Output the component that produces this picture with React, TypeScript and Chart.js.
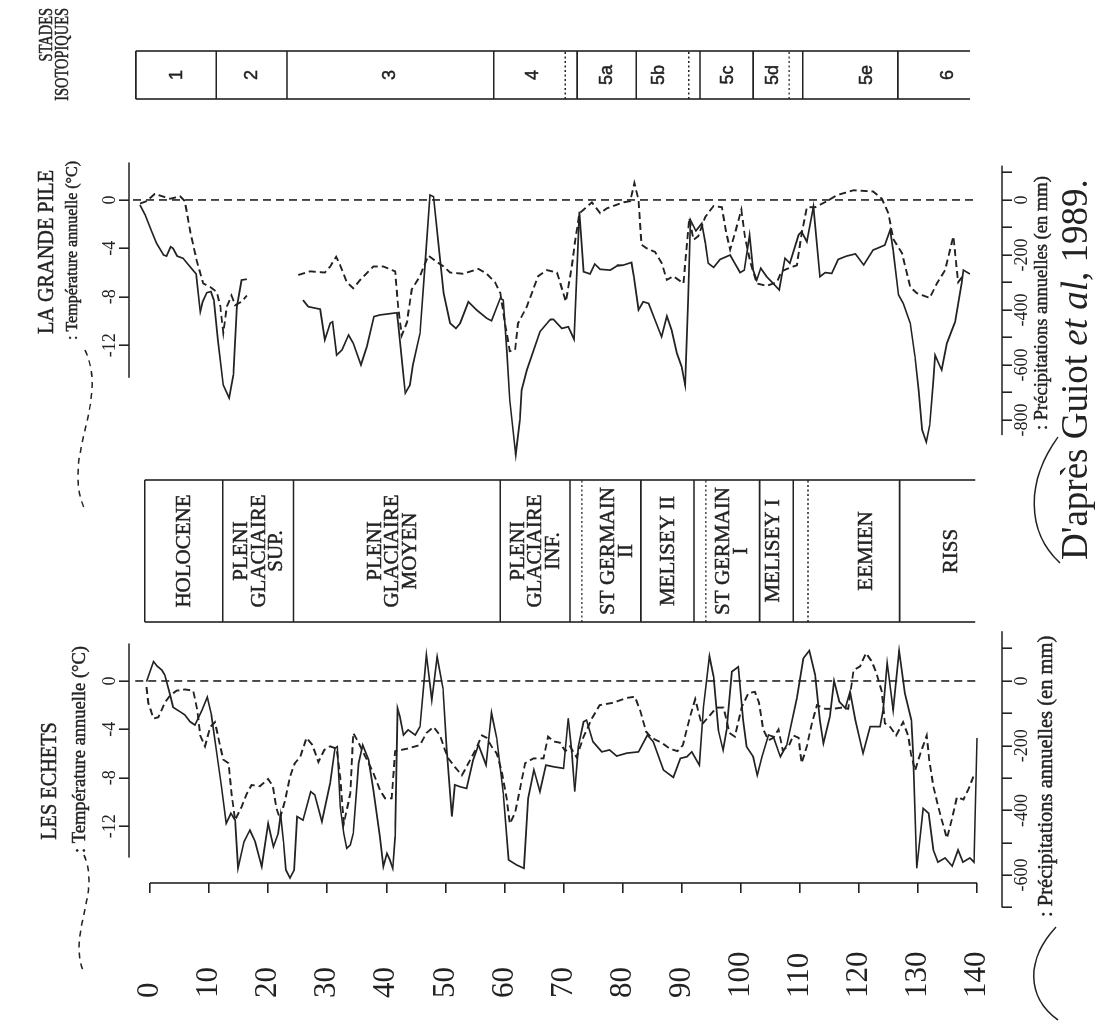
import React, { useEffect, useRef } from 'react';
import { Chart, registerables } from 'chart.js';

Chart.register(...registerables);

const INK = '#222222';
const SERIF = '"Liberation Serif", "DejaVu Serif", serif';
const SANS = '"Liberation Sans", "DejaVu Sans", sans-serif';
const TEXT_WEIGHT_STROKE = 0.45; // thickens canvas text slightly, like the scanned print

// Page (displayed) and the unrotated drawing frame (rotated -90deg on screen)
const PAGE_W = 1096;
const PAGE_H = 1023;
const FRAME_W = PAGE_H; // u axis -> displayed upward
const FRAME_H = PAGE_W; // v axis -> displayed rightward

// ---------------- DATA ----------------
// Age axis (ka)
const AGE_TICKS = [0, 10, 20, 30, 40, 50, 60, 70, 80, 90, 100, 110, 120, 130, 140];
const AGE_MIN = -3.56;
const AGE_MAX = 144.23;

const TEMP_TICKS = [-12, -8, -4, 0];
const LE_PRECIP_TICKS = [-700, -600, -500, -400, -300, -200, -100, 0, 100];
const GP_PRECIP_TICKS = [-800, -700, -600, -500, -400, -300, -200, -100, 0, 100];
const PRECIP_LABEL_STEP = 200;

// Les Echets : precipitation anomaly (mm) [age, value]
const LE_PRECIP = [
  [-0.6, -2], [0.6, 60], [1.2, 46], [2.0, 34], [2.5, 19], [3.4, -43], [3.9, -81], [5.1, -95], [5.9, -105], [6.8, -126],
  [7.6, -136], [8.8, -90], [9.7, -50], [10.4, -105], [11.3, -223], [12.1, -327], [12.9, -440], [13.7, -409], [14.4, -430], [14.9, -579],
  [15.9, -497], [16.9, -461], [17.8, -497], [18.9, -574], [20.0, -440], [20.9, -512], [21.7, -471], [22.1, -414], [22.6, -497], [23.0, -584],
  [23.7, -609], [24.4, -584], [24.9, -419], [25.9, -430], [27.2, -342], [27.9, -352], [29.1, -435], [30.5, -316], [31.3, -208], [31.7, -203],
  [32.2, -389], [32.8, -471], [33.3, -517], [33.9, -507], [34.4, -471], [35.3, -254], [36.0, -198], [37.0, -244], [37.8, -337], [38.9, -481],
  [39.5, -574], [40.1, -533], [40.6, -553], [41.1, -579], [41.5, -481], [41.9, -84], [42.3, -110], [42.9, -167], [43.7, -151], [44.9, -167],
  [45.7, -141], [46.8, 80], [47.7, -59], [48.6, 75], [49.6, -23], [50.2, -208], [51.1, -419], [51.6, -321], [52.5, -327], [53.6, -332],
  [54.7, -244], [55.6, -198], [56.9, -260], [57.8, -98], [58.7, -177], [59.8, -347], [60.7, -553], [62.1, -569], [63.3, -579], [64.0, -363],
  [65.0, -275], [66.0, -342], [67.0, -260], [68.3, -265], [70.0, -270], [70.8, -115], [71.4, -223], [71.9, -342], [72.5, -203], [73.4, -126],
  [73.9, -121], [75.0, -188], [76.5, -219], [77.8, -213], [79.0, -232], [80.7, -223], [82.7, -219], [84.2, -167], [85.2, -188], [86.9, -275],
  [88.6, -298], [89.8, -239], [90.9, -234], [91.7, -219], [93.0, -260], [93.7, -79], [94.7, 77], [95.4, 13], [96.2, -151], [97.0, -213],
  [97.6, -151], [98.5, 29], [99.6, 44], [100.4, -121], [101.0, -203], [102.1, -234], [102.8, -291], [103.6, -234], [104.7, -167], [105.5, -172],
  [106.7, -234], [107.8, -198], [109.5, -53], [110.6, 70], [111.6, 94], [112.6, 19], [113.4, -121], [114.0, -193], [115.1, -110], [115.8, 1],
  [116.7, -64], [117.7, -84], [118.5, -33], [119.4, -121], [120.7, -223], [121.9, -141], [123.6, -141], [124.1, -90], [124.8, 55], [125.8, -90],
  [126.8, 94], [127.8, -38], [128.9, -121], [129.2, -223], [129.8, -579], [130.9, -394], [131.8, -409], [132.6, -522], [133.4, -560], [134.6, -547],
  [135.8, -572], [136.8, -522], [137.6, -560], [138.8, -547], [139.5, -560], [140.0, -176],
];

// Les Echets : temperature anomaly (degC) [age, value]
const LE_TEMP = [
  [-0.6, -0.5], [-0.3, -1.8], [0.6, -3.1], [1.4, -3.0], [2.5, -1.8], [3.4, -1.2], [4.5, -0.8], [5.9, -0.7], [7.3, -0.8], [8.0, -2.4],
  [8.5, -4.5], [9.3, -5.4], [10.2, -3.8], [11.0, -3.4], [11.7, -5.0], [12.4, -6.5], [13.3, -6.8], [13.8, -9.3], [14.4, -11.5], [15.5, -10.4],
  [16.4, -9.3], [17.2, -8.6], [18.6, -8.7], [20.0, -8.1], [20.8, -8.7], [21.4, -10.5], [22.0, -11.4], [22.9, -9.8], [23.7, -7.9], [24.5, -6.8],
  [25.4, -6.3], [26.5, -4.7], [27.5, -5.3], [28.5, -6.7], [29.5, -5.7], [30.5, -5.4], [31.6, -5.6], [32.2, -8.0], [32.8, -11.8], [33.9, -9.3],
  [34.4, -4.3], [35.3, -5.1], [36.7, -6.5], [37.8, -7.6], [38.9, -9.0], [39.8, -9.7], [40.9, -9.7], [41.5, -5.8], [43.5, -5.6], [45.7, -5.3],
  [46.8, -4.3], [48.0, -3.8], [49.1, -4.5], [49.9, -5.7], [50.5, -6.4], [51.6, -7.1], [52.8, -7.8], [53.9, -6.8], [55.0, -5.8], [56.2, -4.5],
  [57.0, -4.7], [57.8, -5.4], [58.7, -6.0], [59.5, -7.4], [60.4, -9.8], [60.9, -11.8], [61.8, -10.9], [62.6, -9.0], [63.5, -6.8], [64.9, -6.4],
  [66.6, -6.4], [67.4, -4.6], [68.3, -5.0], [69.4, -5.1], [70.3, -5.8], [71.1, -5.4], [72.2, -6.3], [73.4, -4.6], [74.8, -3.1], [76.1, -2.0],
  [78.4, -1.8], [80.7, -1.4], [82.1, -1.3], [83.0, -2.5], [84.0, -4.2], [84.9, -4.7], [86.6, -5.1], [88.0, -5.6], [89.3, -5.8], [90.2, -5.3],
  [91.4, -3.0], [92.3, -1.5], [93.4, -3.6], [94.5, -3.0], [95.9, -2.2], [97.1, -2.2], [98.1, -4.3], [99.0, -4.6], [100.2, -2.1], [101.3, -1.0],
  [102.4, -0.9], [103.1, -1.8], [103.8, -4.0], [104.7, -4.9], [105.5, -4.7], [106.4, -4.0], [107.1, -5.7], [108.1, -5.4], [108.9, -4.5], [109.8, -4.7],
  [110.3, -6.8], [111.2, -5.4], [112.0, -3.6], [112.9, -2.0], [114.3, -2.3], [115.7, -2.3], [117.1, -2.2], [118.2, -2.3], [119.1, 0.9], [120.2, 1.2],
  [121.2, 2.3], [122.2, 1.6], [123.0, 0.6], [123.9, -0.9], [124.4, -3.5], [125.3, -3.8], [126.3, -4.5], [127.5, -3.4], [128.4, -4.6], [128.8, -6.0],
  [129.5, -7.4], [130.4, -6.0], [131.5, -4.5], [131.9, -6.5], [132.6, -8.7], [133.7, -10.9], [134.9, -13.0], [135.7, -11.5], [136.6, -9.6], [137.7, -9.8],
  [138.5, -9.0], [139.4, -7.9],
];

// La Grande Pile : precipitation anomaly (mm) [age, value] (null = gap in record)
const GP_PRECIP = [
  [-1.7, -18], [-0.8, -55], [0.3, -115], [1.1, -157], [2.3, -200], [2.8, -204], [3.5, -170], [3.9, -176], [4.6, -204], [5.6, -212],
  [6.8, -243], [7.8, -269], [8.5, -406], [8.9, -370], [9.6, -337], [10.3, -333], [10.8, -364], [11.5, -509], [12.4, -673], [13.4, -720],
  [14.1, -636], [14.7, -388], [15.5, -291], [16.4, -288], [20.0, null], [25.9, -364], [26.8, -388], [28.8, -397], [29.6, -509], [30.5, -448],
  [30.9, -443], [31.6, -564], [32.5, -545], [33.6, -491], [34.4, -521], [35.7, -600], [36.7, -533], [37.9, -424], [38.9, -418], [41.8, -410],
  [42.0, -448], [42.8, -618], [43.2, -702], [44.0, -673], [44.5, -600], [45.7, -485], [46.6, -218], [47.4, 18], [48.0, 12], [48.8, -157],
  [49.7, -339], [50.8, -448], [51.8, -467], [52.5, -448], [53.9, -370], [55.3, -400], [57.0, -430], [57.8, -439], [59.3, -357], [59.8, -364],
  [60.4, -552], [60.9, -727], [61.9, -927], [62.6, -800], [62.9, -691], [63.8, -618], [66.0, -479], [67.7, -436], [68.3, -434], [69.7, -467],
  [70.8, -461], [71.8, -507], [72.7, -43], [73.4, -261], [74.5, -269], [75.3, -233], [76.2, -252], [77.9, -255], [79.0, -240], [80.1, -237],
  [81.5, -227], [81.9, -279], [82.7, -400], [83.5, -370], [84.4, -376], [85.5, -436], [86.6, -497], [87.5, -422], [88.3, -473], [89.2, -557],
  [90.0, -606], [90.6, -673], [91.1, -364], [91.5, -73], [92.4, -112], [93.4, -85], [94.0, -157], [94.5, -230], [95.4, -245], [96.5, -216],
  [98.2, -200], [99.0, -230], [99.9, -264], [100.6, -255], [101.5, -127], [102.1, -255], [102.7, -291], [103.4, -248], [104.4, -279], [105.5, -303],
  [106.5, -327], [107.5, -212], [108.3, -230], [109.8, -127], [110.3, -115], [111.2, -152], [112.3, -24], [113.4, -279], [114.3, -264], [115.4, -267],
  [116.5, -216], [117.9, -204], [119.4, -196], [120.8, -236], [122.4, -182], [124.4, -164], [125.3, -109], [125.8, -182], [126.7, -345], [127.5, -376],
  [128.7, -448], [129.5, -570], [130.1, -691], [130.7, -836], [131.4, -880], [132.0, -818], [132.6, -655], [132.9, -564], [134.0, -618], [134.9, -521],
  [136.3, -443], [137.4, -303], [137.7, -255], [138.8, -269],
];

// La Grande Pile : temperature anomaly (degC) [age, value]
const GP_TEMP = [
  [-1.7, -0.3], [-0.6, -0.1], [0.8, 0.5], [3.4, 0.1], [5.1, 0.3], [5.9, -0.1], [6.8, -2.6], [7.9, -5.0], [9.0, -6.9], [10.2, -7.2],
  [11.3, -7.6], [11.9, -8.8], [12.4, -11.0], [13.0, -8.8], [13.8, -7.9], [14.4, -8.7], [15.5, -8.4], [16.4, -7.9], [20.0, null], [25.1, -6.2],
  [27.1, -5.9], [29.6, -6.0], [30.5, -5.5], [31.5, -4.7], [32.2, -5.4], [33.3, -6.8], [34.4, -7.3], [35.6, -6.6], [37.8, -5.5], [39.5, -5.5],
  [41.5, -5.9], [42.0, -8.8], [42.6, -11.2], [43.5, -10.1], [44.3, -7.4], [45.7, -6.3], [46.6, -5.2], [47.1, -4.6], [48.2, -5.0], [49.7, -5.5],
  [50.8, -6.0], [53.0, -6.1], [55.6, -5.7], [57.0, -6.1], [58.4, -6.8], [59.3, -7.7], [60.1, -10.2], [60.9, -12.5], [61.8, -12.4], [62.3, -10.2],
  [63.8, -8.8], [65.7, -6.3], [67.2, -5.8], [68.9, -6.0], [69.4, -6.8], [70.4, -8.4], [71.4, -5.5], [71.9, -3.6], [72.7, -1.1], [73.4, -0.8],
  [74.8, -0.2], [76.2, -1.1], [77.3, -0.7], [80.1, -0.2], [81.3, -0.1], [82.0, 1.4], [82.7, 0.0], [83.2, -3.7], [84.1, -4.0], [85.5, -4.3],
  [86.6, -5.2], [87.5, -6.6], [88.6, -6.3], [90.3, -6.9], [90.9, -3.6], [91.3, -1.5], [92.0, -3.3], [92.8, -3.0], [94.0, -1.4], [95.4, -0.5],
  [96.8, -0.6], [97.5, -2.6], [98.2, -4.1], [99.0, -2.8], [100.1, -0.8], [100.7, -3.0], [101.6, -5.1], [102.7, -6.9], [104.4, -7.1], [106.1, -6.8],
  [106.9, -5.9], [108.3, -5.6], [109.5, -5.4], [110.3, -2.8], [111.2, -0.6], [112.6, -0.6], [114.6, -0.1], [116.3, 0.4], [119.1, 0.8], [122.4, 0.7],
  [123.9, 0.1], [125.0, -1.1], [125.8, -3.2], [127.3, -4.4], [128.7, -7.2], [129.8, -7.7], [132.0, -8.1], [133.2, -6.9], [134.6, -5.8], [136.0, -3.0],
  [136.8, -6.8], [137.6, -6.3],
];

// zero reference lines [age, value]
const LE_ZERO = [[-2.5, 0], [140.2, 0]];
const GP_ZERO = [[-2.9, 0], [140.0, 0]];

// Isotopic stages (ka boundaries)
const ISO_BOUNDS = [-2.4, 11.2, 23.2, 58.2, 72.3, 82.3, 93.1, 102.1, 110.5, 126.6];
const ISO_END = 138.8;
const ISO_DOTTED = [70.3, 91.2, 108.2];
const ISO_LABELS = ['1', '2', '3', '4', '5a', '5b', '5c', '5d', '5e', '6'];
const ISO_LABEL_AGES = [4.5, 17.2, 40.6, 64.9, 77.3, 86.1, 97.9, 105.5, 121.3, 135.1];

// Pollen zones (ka boundaries)
const ZONE_BOUNDS = [-0.9, 12.3, 24.3, 59.3, 71.1, 83.1, 92.1, 103.2, 108.9, 126.9];
const ZONE_END = 139.7;
const ZONE_DOTTED = [73.1, 94.1, 111.4];
const ZONE_LABELS = [
  ['HOLOCENE'], ['PLENI', 'GLACIAIRE', 'SUP.'], ['PLENI', 'GLACIAIRE', 'MOYEN'], ['PLENI', 'GLACIAIRE', 'INF.'],
  ['ST GERMAIN', 'II'], ['MELISEY II'], ['ST GERMAIN', 'I'], ['MELISEY I'], ['EEMIEN'], ['RISS'],
];
const ZONE_LABEL_AGES = [5.9, 18.5, 41.1, 65.3, 79.1, 87.7, 98.6, 105.5, 121.3, 135.7];

// ---------------- LAYOUT (unrotated frame pixels) ----------------
const AREA_TOP = 129;
const AREA_BOTTOM = 1002;
const AGE_AXIS_U = 140;
const AGE_LABEL_U = 25;
const ISO_U = [924, 972];
const ZONE_U = [401, 543];

const LE_PANEL = {
  box: [113, 392],
  tempRange: [-18.93, 4.13],
  precipRange: [-707.9, 154.6],
  tempAxis: [-14.6, 3.1],
  precipAxis: [-700, 154],
  precipTicks: LE_PRECIP_TICKS,
  temp: LE_TEMP,
  precip: LE_PRECIP,
  zero: LE_ZERO,
  name: 'LES ECHETS',
  nameAt: [242, 50],
  tTitleAt: [170, 80],
  tTitleSize: 18.5,
  pTitleAt: [106, 1047],
  pTitleSize: 20.5,
  tSquig: [168, 50, 84, 9],
  pSquig: [96, 3, 1056, 1026],
};

const GP_PANEL = {
  box: [560, 870],
  tempRange: [-21.74, 3.88],
  precipRange: [-956.4, 170.9],
  tempAxis: [-14.7, 3.1],
  precipAxis: [-855, 125],
  precipTicks: GP_PRECIP_TICKS,
  temp: GP_TEMP,
  precip: GP_PRECIP,
  zero: GP_ZERO,
  name: 'LA GRANDE PILE',
  nameAt: [771, 47],
  tTitleAt: [683, 73],
  tTitleSize: 16,
  pTitleAt: [593, 1042],
  pTitleSize: 18.5,
  tSquig: [673, 513, 85, 13],
  pSquig: [586, 460, 1058, 1026],
};

const toPoints = (arr) => arr.map(([age, val]) => ({ x: val, y: age }));

// filled text with a hairline stroke (denser, like the scanned print)
function inkText(ctx, text, u, v) {
  ctx.fillText(text, u, v);
  ctx.save();
  ctx.setLineDash([]);
  ctx.lineWidth = TEXT_WEIGHT_STROKE;
  ctx.strokeStyle = INK;
  ctx.strokeText(text, u, v);
  ctx.restore();
}

// text condensed along its reading direction (the scanned original is narrower than Times)
function condensedText(ctx, text, u, v, sx) {
  ctx.save();
  ctx.translate(u, v);
  ctx.scale(sx, 1);
  inkText(ctx, text, 0, 0);
  ctx.restore();
}

function sCurve(ctx, u0, u1, vc, amp) {
  const L = u1 - u0;
  ctx.beginPath();
  ctx.moveTo(u0, vc);
  ctx.bezierCurveTo(u0 + L / 3, vc + amp * 1.9, u0 + (2 * L) / 3, vc - amp * 1.9, u1, vc);
  ctx.stroke();
}

function cCurve(ctx, u0, u1, vEnds, vMid) {
  const L = u1 - u0;
  ctx.beginPath();
  ctx.moveTo(u0, vEnds);
  ctx.bezierCurveTo(u0 + L * 0.35, vMid, u0 + L * 0.75, vMid, u1, vEnds + 2);
  ctx.stroke();
}

function panelPlugin(p) {
  return {
    id: 'panelDecor',
    afterDraw(chart) {
      const { ctx, chartArea, scales } = chart;
      const xT = scales.xT;
      const xP = scales.xP;
      ctx.save();
      ctx.strokeStyle = INK;
      ctx.lineWidth = 1.6;
      ctx.setLineDash([]);
      ctx.beginPath();
      ctx.moveTo(xT.getPixelForValue(p.tempAxis[0]), chartArea.top);
      ctx.lineTo(xT.getPixelForValue(p.tempAxis[1]), chartArea.top);
      ctx.moveTo(xP.getPixelForValue(p.precipAxis[0]), chartArea.bottom);
      ctx.lineTo(xP.getPixelForValue(p.precipAxis[1]), chartArea.bottom);
      ctx.stroke();

      ctx.fillStyle = INK;
      ctx.textBaseline = 'middle';
      ctx.textAlign = 'center';
      ctx.font = `23px ${SERIF}`;
      condensedText(ctx, p.name, p.nameAt[0], p.nameAt[1], 0.88);
      ctx.textAlign = 'left';
      ctx.font = `${p.tTitleSize}px ${SERIF}`;
      inkText(ctx, ': Température annuelle (°C)', p.tTitleAt[0], p.tTitleAt[1]);
      ctx.font = `${p.pTitleSize}px ${SERIF}`;
      inkText(ctx, ': Précipitations annuelles (en mm)', p.pTitleAt[0], p.pTitleAt[1]);

      ctx.lineWidth = 1.5;
      ctx.setLineDash([6, 5]);
      sCurve(ctx, p.tSquig[0], p.tSquig[1], p.tSquig[2], p.tSquig[3]);
      ctx.setLineDash([]);
      cCurve(ctx, p.pSquig[0], p.pSquig[1], p.pSquig[2], p.pSquig[3]);
      ctx.restore();
    },
  };
}

function panelConfig(p) {
  const line = { borderColor: INK, pointRadius: 0, fill: false, tension: 0 };
  return {
    type: 'line',
    data: {
      datasets: [
        { ...line, data: toPoints(p.zero), xAxisID: 'xT', borderDash: [8, 5], borderWidth: 1.6 },
        { ...line, data: toPoints(p.temp), xAxisID: 'xT', borderDash: [7, 4], borderWidth: 1.9 },
        { ...line, data: toPoints(p.precip), xAxisID: 'xP', borderWidth: 1.7 },
      ],
    },
    options: {
      responsive: false,
      animation: false,
      events: [],
      indexAxis: 'y',
      spanGaps: false,
      layout: { padding: { left: p.box[0], right: FRAME_W - p.box[1], top: 0, bottom: 0 } },
      plugins: { legend: { display: false }, tooltip: { enabled: false } },
      scales: {
        y: { type: 'linear', display: false, reverse: true, min: AGE_MIN, max: AGE_MAX },
        xT: {
          type: 'linear',
          position: 'top',
          min: p.tempRange[0],
          max: p.tempRange[1],
          afterBuildTicks: (s) => { s.ticks = TEMP_TICKS.map((value) => ({ value })); },
          afterFit: (s) => { s.height = AREA_TOP; },
          grid: { display: true, drawOnChartArea: false, drawTicks: true, tickLength: 10, color: INK, lineWidth: 1.6 },
          border: { display: false },
          ticks: {
            autoSkip: false, maxRotation: 0, minRotation: 0, padding: 0, color: INK,
            font: { family: SERIF, size: 18, lineHeight: 1 },
            callback: (v) => String(v),
          },
        },
        xP: {
          type: 'linear',
          position: 'bottom',
          min: p.precipRange[0],
          max: p.precipRange[1],
          afterBuildTicks: (s) => { s.ticks = p.precipTicks.map((value) => ({ value })); },
          afterFit: (s) => { s.height = FRAME_H - AREA_BOTTOM; },
          grid: { display: true, drawOnChartArea: false, drawTicks: true, tickLength: 10, color: INK, lineWidth: 1.6 },
          border: { display: false },
          ticks: {
            autoSkip: false, maxRotation: 0, minRotation: 0, padding: 1, color: INK,
            font: { family: SERIF, size: 18, lineHeight: 1 },
            callback: (v) => (v % PRECIP_LABEL_STEP === 0 ? String(v) : ''),
          },
        },
      },
    },
    plugins: [panelPlugin(p)],
  };
}

function drawTable(ctx, y, uA, uB, bounds, end, dotted, labels, labelAges, font, lineH) {
  ctx.save();
  ctx.strokeStyle = INK;
  ctx.lineWidth = 1.6;
  ctx.setLineDash([]);
  const v0 = y.getPixelForValue(bounds[0]);
  const vEnd = y.getPixelForValue(end);
  ctx.beginPath();
  ctx.moveTo(uA, v0); ctx.lineTo(uA, vEnd);
  ctx.moveTo(uB, v0); ctx.lineTo(uB, vEnd);
  bounds.forEach((b) => {
    const v = y.getPixelForValue(b);
    ctx.moveTo(uA, v); ctx.lineTo(uB, v);
  });
  ctx.stroke();
  ctx.lineWidth = 1.4;
  ctx.setLineDash([2, 2.5]);
  ctx.beginPath();
  dotted.forEach((b) => {
    const v = y.getPixelForValue(b);
    ctx.moveTo(uA, v); ctx.lineTo(uB, v);
  });
  ctx.stroke();
  ctx.setLineDash([]);
  ctx.fillStyle = INK;
  ctx.font = font;
  ctx.textAlign = 'center';
  ctx.textBaseline = 'middle';
  const uc = (uA + uB) / 2;
  labels.forEach((lab, i) => {
    const lines = Array.isArray(lab) ? lab : [lab];
    const vc = y.getPixelForValue(labelAges[i]);
    lines.forEach((t, k) => inkText(ctx, t, uc, vc + (k - (lines.length - 1) / 2) * lineH));
  });
  ctx.restore();
}

const frameDecor = {
  id: 'frameDecor',
  afterDraw(chart) {
    const { ctx, scales } = chart;
    const y = scales.y;
    ctx.save();
    ctx.strokeStyle = INK;
    ctx.lineWidth = 1.6;
    ctx.beginPath();
    ctx.moveTo(AGE_AXIS_U, y.getPixelForValue(AGE_TICKS[0]));
    ctx.lineTo(AGE_AXIS_U, y.getPixelForValue(AGE_TICKS[AGE_TICKS.length - 1]));
    ctx.stroke();
    ctx.restore();

    drawTable(ctx, y, ZONE_U[0], ZONE_U[1], ZONE_BOUNDS, ZONE_END, ZONE_DOTTED, ZONE_LABELS, ZONE_LABEL_AGES, `21px ${SERIF}`, 17.5);
    drawTable(ctx, y, ISO_U[0], ISO_U[1], ISO_BOUNDS, ISO_END, ISO_DOTTED, ISO_LABELS, ISO_LABEL_AGES, `18px ${SANS}`, 16);

    ctx.save();
    ctx.fillStyle = INK;
    ctx.textBaseline = 'middle';
    ctx.textAlign = 'right';
    ctx.font = `19px ${SERIF}`;
    condensedText(ctx, 'STADES', 1015, 47, 0.76);
    condensedText(ctx, 'ISOTOPIQUES', 1015, 63, 0.76);

    ctx.textAlign = 'left';
    let u = 463;
    const v = 1077;
    const parts = [["D'après Guiot ", ''], ['et al', 'italic '], [', 1989.', '']];
    parts.forEach(([t, style]) => {
      ctx.font = `${style}37px ${SERIF}`;
      ctx.fillText(t, u, v);
      u += ctx.measureText(t).width;
    });
    ctx.restore();
  },
};

const frameConfig = {
  type: 'line',
  data: { datasets: [] },
  options: {
    responsive: false,
    animation: false,
    events: [],
    layout: { padding: { left: AGE_LABEL_U, right: 0, top: AREA_TOP, bottom: FRAME_H - AREA_BOTTOM } },
    plugins: { legend: { display: false }, tooltip: { enabled: false } },
    scales: {
      x: { type: 'linear', display: false, min: 0, max: 1 },
      y: {
        type: 'linear',
        position: 'left',
        reverse: true,
        min: AGE_MIN,
        max: AGE_MAX,
        afterBuildTicks: (s) => { s.ticks = AGE_TICKS.map((value) => ({ value })); },
        afterFit: (s) => { s.width = AGE_AXIS_U - AGE_LABEL_U; },
        grid: { display: true, drawOnChartArea: false, drawTicks: true, tickLength: 10, color: INK, lineWidth: 1.6 },
        border: { display: false },
        ticks: {
          autoSkip: false, crossAlign: 'far', color: INK,
          font: { family: SERIF, size: 31, lineHeight: 1 },
          callback: (v) => String(v),
        },
      },
    },
  },
  plugins: [frameDecor],
};

export default function App() {
  const refA = useRef(null);
  const refB = useRef(null);
  const refC = useRef(null);

  useEffect(() => {
    document.body.style.margin = '0';
    const charts = [
      new Chart(refA.current, frameConfig as any),
      new Chart(refB.current, panelConfig(LE_PANEL) as any),
      new Chart(refC.current, panelConfig(GP_PANEL) as any),
    ];
    return () => charts.forEach((c) => c.destroy());
  }, []);

  const cv: React.CSSProperties = { position: 'absolute', left: 0, top: 0, width: FRAME_W, height: FRAME_H };
  return (
    <div style={{ position: 'fixed', left: 0, top: 0, width: PAGE_W, height: PAGE_H, overflow: 'hidden', background: '#fff' }}>
      <div
        style={{
          position: 'absolute', left: 0, top: 0, width: FRAME_W, height: FRAME_H,
          transformOrigin: '0 0', transform: `translateY(${PAGE_H}px) rotate(-90deg)`,
        }}
      >
        <canvas ref={refA} width={FRAME_W} height={FRAME_H} style={cv} />
        <canvas ref={refB} width={FRAME_W} height={FRAME_H} style={cv} />
        <canvas ref={refC} width={FRAME_W} height={FRAME_H} style={cv} />
      </div>
    </div>
  );
}
